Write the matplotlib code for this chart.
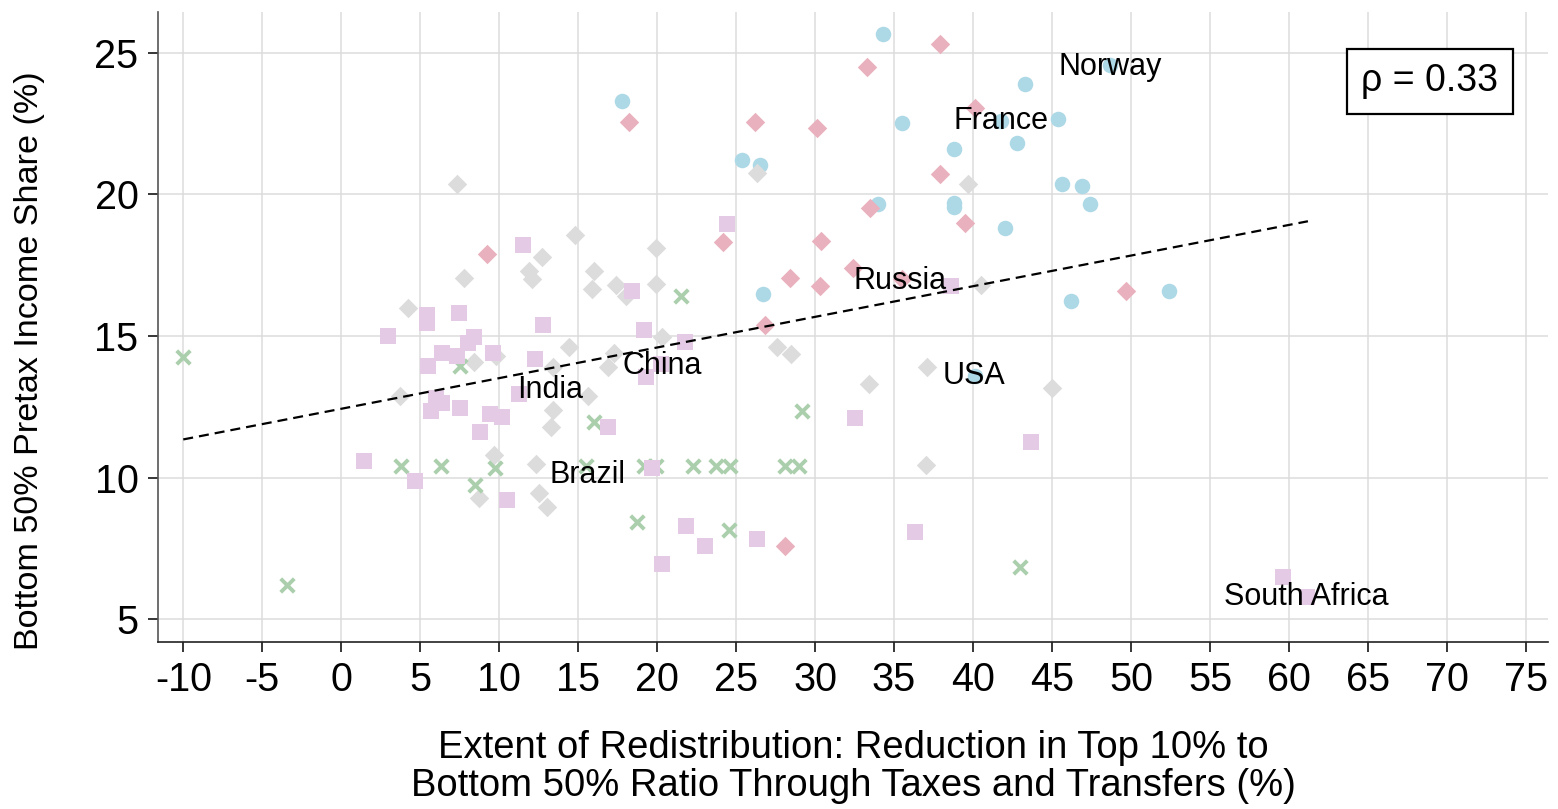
import matplotlib
matplotlib.use("Agg")
import matplotlib.pyplot as plt
import numpy as np

plt.rcParams['font.family'] = ['Liberation Sans', 'DejaVu Sans']
plt.rcParams['axes.unicode_minus'] = False

# data
blue_x = [17.8, 34.3, 25.4, 26.5, 35.5, 43.3, 41.8, 42.8, 38.8, 48.7, 45.4, 45.6,
          46.9, 47.4, 34.0, 38.8, 38.8, 42.0, 46.2, 52.4, 26.7, 40.1]
blue_y = [23.3, 25.65, 21.2, 21.05, 22.5, 23.9, 22.6, 21.8, 21.6, 24.55, 22.65, 20.35,
          20.3, 19.65, 19.65, 19.7, 19.55, 18.8, 16.25, 16.6, 16.5, 13.6]

pink_x = [18.2, 26.2, 30.1, 33.3, 37.9, 40.1, 37.9, 33.5, 39.5, 32.4, 35.5, 49.7,
          24.2, 30.4, 28.4, 30.3, 26.8, 9.2, 28.1]
pink_y = [22.55, 22.55, 22.35, 24.5, 25.3, 23.05, 20.7, 19.5, 19.0, 17.4, 17.0, 16.6,
          18.3, 18.35, 17.05, 16.75, 15.4, 17.9, 7.6]

gray_x = [7.3, 7.8, 4.2, 8.4, 9.8, 3.7, 12.7, 11.9, 12.1, 13.4, 14.8, 16.0, 15.9,
          17.4, 18.0, 19.9, 19.9, 20.3, 14.4, 17.3, 16.9, 27.6, 28.5, 26.3, 13.4,
          13.3, 9.7, 12.3, 12.5, 13.0, 8.7, 15.6, 39.7, 40.5, 37.1, 33.4, 45.0, 37.0]
gray_y = [20.35, 17.05, 16.0, 14.1, 14.3, 12.9, 17.8, 17.3, 17.0, 13.9, 18.55, 17.3,
          16.65, 16.8, 16.4, 18.1, 16.85, 14.95, 14.6, 14.4, 13.9, 14.6, 14.35, 20.75,
          12.4, 11.8, 10.8, 10.5, 9.45, 8.95, 9.3, 12.9, 20.35, 16.8, 13.9, 13.3,
          13.15, 10.45]

green_x = [-10.0, 7.5, -3.45, 3.8, 6.3, 9.75, 8.5, 21.5, 16.0, 15.5, 19.2, 19.95,
           22.3, 23.75, 24.6, 18.7, 24.55, 28.1, 29.0, 29.2, 42.95]
green_y = [14.25, 13.95, 6.2, 10.4, 10.4, 10.35, 9.75, 16.4, 11.95, 10.4, 10.4, 10.4,
           10.4, 10.4, 10.4, 8.45, 8.15, 10.4, 10.4, 12.35, 6.85]

purple_x = [11.5, 5.4, 5.4, 7.45, 2.95, 12.8, 8.4, 8.05, 6.4, 7.3, 5.5, 9.6, 12.25,
            5.7, 6.0, 6.35, 7.5, 9.4, 10.15, 8.8, 11.25, 1.45, 4.7, 10.5, 18.4, 19.15,
            21.75, 24.45, 19.3, 20.25, 16.9, 19.65, 21.8, 20.3, 23.0, 26.3, 38.6, 32.5,
            43.7, 36.3, 59.65, 61.15]
purple_y = [18.2, 15.75, 15.45, 15.8, 15.0, 15.4, 14.95, 14.75, 14.4, 14.3, 13.95, 14.4,
            14.2, 12.35, 12.8, 12.65, 12.45, 12.25, 12.15, 11.6, 12.95, 10.6, 9.9, 9.2,
            16.6, 15.2, 14.8, 18.95, 13.55, 14.0, 11.8, 10.35, 8.3, 6.95, 7.6, 7.85,
            16.75, 12.1, 11.25, 8.1, 6.5, 5.8]

fit_x = [-10.0, 61.2]
fit_y = [11.35, 19.05]

countries = ['Norway', 'France', 'Russia', 'USA', 'China', 'India', 'Brazil', 'South Africa']
country_x = [48.7, 41.8, 35.4, 40.05, 20.3, 13.2, 15.6, 61.1]
country_y = [24.5, 22.6, 16.95, 13.6, 13.95, 13.1, 10.1, 5.8]

rho_text = 'ρ = 0.33'

fig = plt.figure(figsize=(15.58, 8.09), dpi=100)
ax = fig.add_axes([0.1014, 0.2064, 0.8922, 0.7786])

ax.scatter(blue_x, blue_y, s=125, marker='o', color='#add8e6', linewidths=0, zorder=3)
ax.scatter(gray_x, gray_y, s=98, marker='D', color='#dcdcdc', linewidths=0, zorder=4)
ax.scatter(pink_x, pink_y, s=98, marker='D', color='#e9b1be', linewidths=0, zorder=4)
ax.scatter(green_x, green_y, s=95, marker='x', color='#abcfac', linewidths=2.8, zorder=5)
ax.scatter(purple_x, purple_y, s=132, marker='s', color='#e5cae5', linewidths=0, zorder=6)

ax.plot(fit_x, fit_y, '--', color='black', lw=1.6, dashes=(4.5, 2.7), zorder=7)

for name, cx, cy in zip(countries, country_x, country_y):
    ax.text(cx, cy, name, fontsize=22, ha='center', va='center', zorder=8)

ax.text(0.915, 0.89, rho_text, transform=ax.transAxes, fontsize=27,
        ha='center', va='center', zorder=9,
        bbox=dict(boxstyle='square,pad=0.38', facecolor='white', edgecolor='black', lw=1.6))

ax.set_xlim(-11.6, 76.4)
ax.set_ylim(4.2, 26.43)
ax.set_xticks(np.arange(-10, 80, 5))
ax.set_yticks(np.arange(5, 30, 5))
ax.grid(True, color='#dcdcdc', lw=1.1, zorder=0)
ax.set_axisbelow(True)

for side in ['top', 'right']:
    ax.spines[side].set_visible(False)
ax.spines['left'].set_color('#555555')
ax.spines['bottom'].set_color('#222222')
for side in ['left', 'bottom']:
    ax.spines[side].set_linewidth(1.2)

ax.tick_params(direction='out', length=7, width=1.1, labelsize=28.5, pad=7)

ax.set_xlabel('Extent of Redistribution: Reduction in Top 10% to\n'
              'Bottom 50% Ratio Through Taxes and Transfers (%)',
              fontsize=27.5, labelpad=22, linespacing=1.07)
ax.set_ylabel('Bottom 50% Pretax Income Share (%)', fontsize=24.6)
ax.yaxis.set_label_coords(-0.081, 0.446)

fig.savefig('out.png', dpi=100)
